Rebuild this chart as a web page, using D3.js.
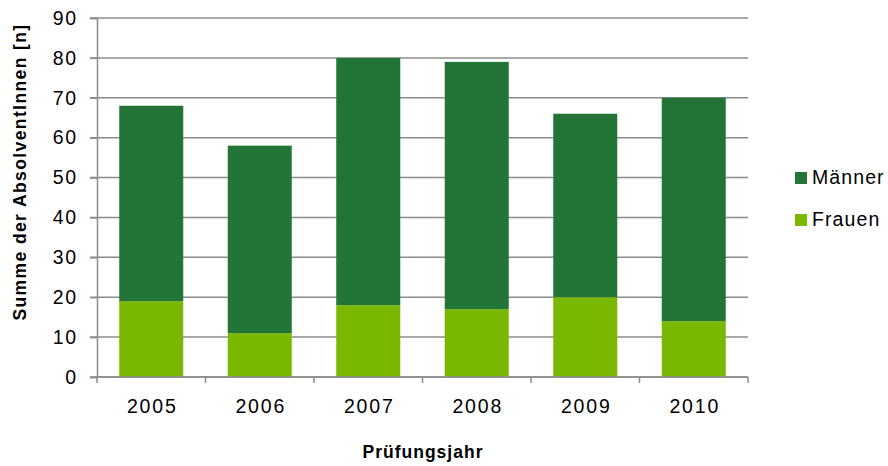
<!doctype html>
<html>
<head>
  <meta charset="utf-8" />
  <title>AbsolventInnen</title>
  <script src="https://cdn.jsdelivr.net/npm/d3@7"></script>
  <style>
  html,body{margin:0;padding:0;background:#fff;}
  svg{display:block;font-family:"Liberation Sans",Arial,sans-serif;}
  </style>
</head>
<body>
<div id="chart"></div>
<script>
// data
var years = ["2005","2006","2007","2008","2009","2010"];
var frauen = [19, 11, 18, 17, 20, 14];
var maenner = [49, 47, 62, 62, 46, 56];
var seriesNames = ["Frauen","Männer"];
var colors = {"Frauen":"#7ab800","Männer":"#237537"};
var yTicks = [0,10,20,30,40,50,60,70,80,90];

var W = 888, H = 466;
// plot area (note: "top" is reserved on window, so use pl/pr/pt/pb)
var pl = 97, pr = 748, pt = 18, pb = 377;

var svg = d3.select("#chart").append("svg").attr("width", W).attr("height", H);

var x = d3.scaleBand().domain(years).range([pl, pr]).paddingInner(0.41).paddingOuter(0.205);
var y = d3.scaleLinear().domain([0, 90]).range([pb, pt]);

// gridlines
svg.append("g").selectAll("line").data(yTicks).enter().append("line")
  .attr("x1", pl - 7).attr("x2", pr)
  .attr("y1", function(d){ return y(d); }).attr("y2", function(d){ return y(d); })
  .attr("stroke", "#8c8c8c").attr("stroke-width", 1.5);

// stacked bars
var rows = years.map(function(yr, i){ return {year: yr, "Frauen": frauen[i], "Männer": maenner[i]}; });
var stack = d3.stack().keys(seriesNames)(rows);

svg.append("g").selectAll("g").data(stack).enter().append("g")
  .attr("fill", function(d){ return colors[d.key]; })
  .selectAll("rect").data(function(d){ return d; }).enter().append("rect")
  .attr("x", function(d){ return x(d.data.year); })
  .attr("width", x.bandwidth())
  .attr("y", function(d){ return y(d[1]); })
  .attr("height", function(d){ return y(d[0]) - y(d[1]); });

// y axis
var yAxis = svg.append("g").attr("transform", "translate(" + pl + ",0)")
  .call(d3.axisLeft(y).tickValues(yTicks).tickSize(7).tickPadding(12));
yAxis.select(".domain").attr("stroke", "#8c8c8c").attr("stroke-width", 1.5);
yAxis.selectAll(".tick line").attr("stroke", "#8c8c8c").attr("stroke-width", 1.5);
yAxis.selectAll("text").attr("font-size", "19.5px").attr("fill", "#000")
  .attr("letter-spacing", "1.8px")
  .attr("font-family", "Liberation Sans, Arial, sans-serif");

// x axis: ticks at category boundaries
var step = x.step();
var bounds = d3.range(years.length + 1).map(function(i){ return pl + i * step; });
var xg = svg.append("g");
xg.append("line").attr("x1", pl).attr("x2", pr).attr("y1", pb).attr("y2", pb)
  .attr("stroke", "#8c8c8c").attr("stroke-width", 1.5);
xg.selectAll("line.tk").data(bounds).enter().append("line").attr("class", "tk")
  .attr("x1", function(d){ return d; }).attr("x2", function(d){ return d; })
  .attr("y1", pb).attr("y2", pb + 6)
  .attr("stroke", "#8c8c8c").attr("stroke-width", 1.5);
xg.selectAll("text").data(years).enter().append("text")
  .attr("x", function(d){ return x(d) + x.bandwidth() / 2 + 1; })
  .attr("y", 413).attr("text-anchor", "middle").attr("font-size", "19.5px")
  .attr("letter-spacing", "1.8px")
  .text(function(d){ return d; });

// axis titles
svg.append("text").attr("x", 423).attr("y", 458).attr("text-anchor", "middle")
  .attr("font-size", "17.5px").attr("font-weight", "bold").attr("letter-spacing", "1px")
  .text("Prüfungsjahr");
svg.append("text").attr("transform", "translate(26,172) rotate(-90)").attr("text-anchor", "middle")
  .attr("font-size", "17.5px").attr("font-weight", "bold").attr("letter-spacing", "1.4px")
  .text("Summe der AbsolventInnen [n]");

// legend
var legend = [{name:"Männer", y:184},{name:"Frauen", y:226}];
var lg = svg.append("g").selectAll("g").data(legend).enter().append("g")
  .attr("transform", function(d){ return "translate(795," + d.y + ")"; });
lg.append("rect").attr("x", 0).attr("y", -12).attr("width", 12).attr("height", 12)
  .attr("fill", function(d){ return colors[d.name]; });
lg.append("text").attr("x", 17).attr("y", 0).attr("font-size", "19.5px")
  .attr("letter-spacing", "1.1px")
  .text(function(d){ return d.name; });
</script>
</body>
</html>
